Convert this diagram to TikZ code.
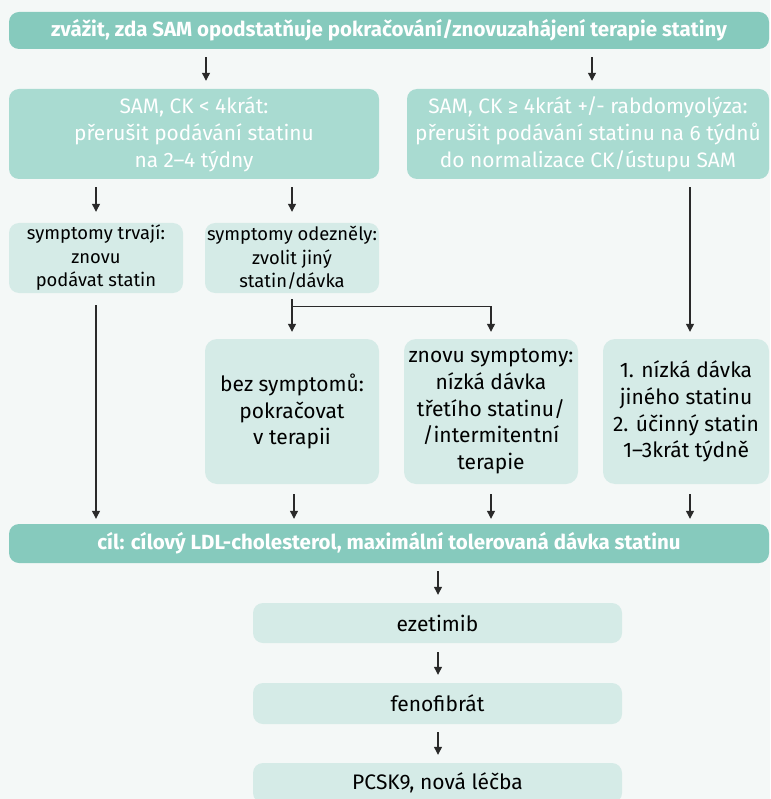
\documentclass[tikz,border=0pt]{standalone}
\usepackage{fontspec}
\setmainfont{Fira Sans}
\usetikzlibrary{arrows.meta,calc}
\definecolor{cdark}{HTML}{86CABD}
\definecolor{cmid}{HTML}{A9DBD1}
\definecolor{clight}{HTML}{D5EBE7}
\definecolor{cbg}{HTML}{F4F8F7}
\definecolor{cline}{HTML}{2A2A2A}
\begin{document}
\begin{tikzpicture}[x=1pt,y=-1pt,
  bar/.style={rectangle, fill=cdark, rounded corners=10pt, inner sep=0pt, text=white,
    font=\bfseries\fontsize{20.5}{24}\selectfont, align=center},
  midbox/.style={rectangle, fill=cmid, rounded corners=10pt, inner sep=0pt, text=white,
    font=\fontsize{20.9}{27}\selectfont, align=center},
  symbox/.style={rectangle, fill=clight, rounded corners=10pt, inner sep=0pt, text=black,
    font=\fontsize{18.4}{23.5}\selectfont, align=center},
  bigbox/.style={rectangle, fill=clight, rounded corners=12pt, inner sep=0pt, text=black,
    font=\fontsize{21}{26.7}\selectfont, align=center, minimum width=174pt, minimum height=145pt},
  stepbox/.style={rectangle, fill=clight, rounded corners=10pt, inner sep=0pt, text=black,
    font=\fontsize{21}{24}\selectfont, minimum width=369pt, minimum height=40pt},
  arr/.style={draw=cline, line width=1.2pt, -{Triangle[width=8pt,length=8pt]}}
]
\fill[cbg] (0,0) rectangle (770,799);
\useasboundingbox (0,0) rectangle (770,799);

\node[bar, minimum width=760pt, minimum height=37pt] (top) at (389,30.5)
  {zvážit, zda SAM opodstatňuje pokračování/znovuzahájení terapie statiny};

\node[midbox, minimum width=370pt, minimum height=90pt] (samL) at (194,134)
  {SAM, CK < 4krát:\\přerušit podávání statinu\\na 2–4 týdny};
\node[midbox, minimum width=362pt, minimum height=90pt] (samR) at (588,134)
  {SAM, CK ≥ 4krát +/- rabdomyolýza:\\přerušit podávání statinu na 6 týdnů\\do normalizace CK/ústupu SAM};

\node[symbox, minimum width=174pt, minimum height=70pt] (sym1) at (96,258)
  {symptomy trvají:\\znovu\\podávat statin};
\node[symbox, minimum width=174pt, minimum height=70pt] (sym2) at (292,258)
  {symptomy odezněly:\\zvolit jiný\\statin/dávka};

\node[bigbox] (bez) at (292,411.5) {bez symptomů:\\pokračovat\\v terapii};
\node[bigbox] (znovu) at (491,411.5)
  {znovu symptomy:\\nízká dávka\\třetího statinu/\\/intermitentní\\terapie};
\node[bigbox, minimum width=166pt] (nizka) at (686,411.5)
  {1. nízká dávka\\jiného statinu\\2. účinný statin\\1–3krát týdně};

\node[bar, minimum width=760pt, minimum height=39pt] (cil) at (389,543.5)
  {cíl: cílový LDL-cholesterol, maximální tolerovaná dávka statinu};

\node[stepbox] (eze) at (437.5,623) {ezetimib};
\node[stepbox, minimum height=41pt] (feno) at (437.5,703.5) {fenofibrát};
\node[stepbox] (pcsk) at (437.5,783) {PCSK9, nová léčba};

% connectors
\draw[arr, shorten <=8pt, shorten >=8pt] (206,0 |- top.south) -- (206,0 |- samL.north);
\draw[arr, shorten <=8pt, shorten >=8pt] (592,0 |- top.south) -- (592,0 |- samR.north);
\draw[arr, shorten <=8pt, shorten >=11pt] (96,0 |- samL.south) -- (sym1.north);
\draw[arr, shorten <=8pt, shorten >=11pt] (292,0 |- samL.south) -- (sym2.north);
\draw[arr, shorten <=12pt, shorten >=5pt] (sym1.south) -- (96,0 |- cil.north);
\draw[arr, shorten <=6pt, shorten >=7pt] (sym2.south) -- (bez.north);
\draw[arr, shorten >=7pt] ($(sym2.south)+(0,13)$) -| (znovu.north);
\draw[arr, shorten <=8pt, shorten >=7pt] (690,0 |- samR.south) -- (690,0 |- nizka.north);
\draw[arr, shorten <=10pt, shorten >=5pt] (294,0 |- bez.south) -- (294,0 |- cil.north);
\draw[arr, shorten <=10pt, shorten >=5pt] (znovu.south) -- (491,0 |- cil.north);
\draw[arr, shorten <=10pt, shorten >=5pt] (690,0 |- nizka.south) -- (690,0 |- cil.north);
\draw[arr, shorten <=8pt, shorten >=8pt] (438,0 |- cil.south) -- (438,0 |- eze.north);
\draw[arr, shorten <=9pt, shorten >=8pt] (438,0 |- eze.south) -- (438,0 |- feno.north);
\draw[arr, shorten <=8pt, shorten >=8pt] (438,0 |- feno.south) -- (438,0 |- pcsk.north);
\end{tikzpicture}
\end{document}
